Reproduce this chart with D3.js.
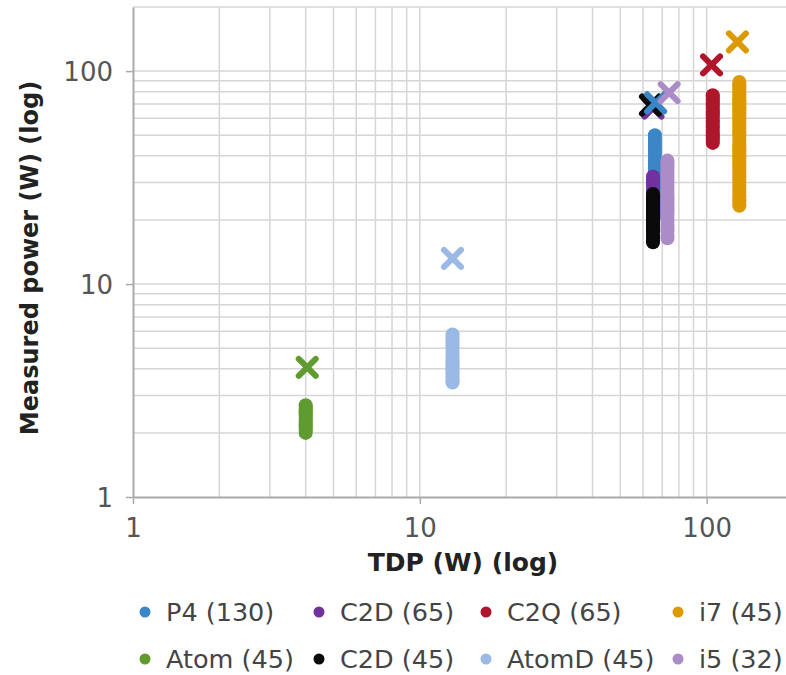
<!DOCTYPE html>
<html>
<head>
<meta charset="utf-8">
<script src="https://cdn.jsdelivr.net/npm/d3@7"></script>
<style>
  body { margin: 0; background: #fff; }
  svg { display: block; font-family: "DejaVu Sans", sans-serif; }
</style>
</head>
<body>
<div id="chart"></div>
<script>
// series, in legend order
var seriesNames = ['P4 (130)', 'C2D (65)', 'C2Q (65)', 'i7 (45)', 'Atom (45)', 'C2D (45)', 'AtomD (45)', 'i5 (32)'];
var seriesColors = ['#3b86c6', '#7331a0', '#b0162b', '#dc9a00', '#5f9b2f', '#0a0a0a', '#9ab9e4', '#ab8cc8'];

// TDP (x) of each stripe of measured points
var seriesTdp = [66, 65, 105, 130, 4, 65, 13, 73];

// measured power (W) for each benchmark, per series
var measured = [
    [50, 48.5, 47, 45.5, 44, 42.5, 41, 39.5, 38, 36.5, 35, 34, 33, 32, 31, 30, 29, 28, 27, 26, 25, 24, 23, 22, 21],
    [32, 31, 30, 29, 28, 27, 26, 25, 24, 23, 22, 21, 20, 19, 18],
    [77, 75.5, 74, 72.5, 71, 69.5, 68, 66.5, 65, 63.5, 62, 60.5, 59, 57.5, 56, 54.5, 53, 51.5, 50, 49, 48, 47, 46],
    [89, 87, 85, 83, 81, 79, 77, 75, 73, 71.5, 70, 68.5, 67, 65.5, 64, 62.5, 61, 59.5, 58, 56.5, 55, 53.5, 52, 50.5,
     49, 47.5, 46, 45, 44, 43, 42, 41, 40, 39, 38, 37, 36, 35, 34, 33, 32, 31, 30, 29, 28, 27, 26, 25.2, 24.5, 23.8, 23.3],
    [2.7, 2.65, 2.6, 2.55, 2.5, 2.45, 2.4, 2.35, 2.3, 2.25, 2.2, 2.15, 2.1, 2.05, 2.0],
    [26.5, 25.8, 25, 24.5, 24, 23.5, 23, 22.5, 22, 21.5, 21, 20.5, 20, 19.5, 19, 18.5, 18, 17.5, 17, 16.5, 16, 15.7],
    [5.8, 5.65, 5.5, 5.35, 5.2, 5.05, 4.9, 4.75, 4.6, 4.5, 4.4, 4.3, 4.2, 4.1, 4.0, 3.9, 3.8, 3.7, 3.6, 3.5, 3.45],
    [38, 37, 36, 35, 34, 33, 32, 31, 30, 29, 28, 27.2, 26.5, 25.7, 25, 24.2, 23.5, 22.7, 22, 21.2, 20.5, 19.7, 19,
     18.3, 17.7, 17, 16.4]
];

// the "x" markers
var markerX = [66.4, 65, 104, 128, 4.05, 63.7, 13, 74];
var markerY = [71, 67, 107, 137, 4.06, 69.3, 13.2, 79.2];
var markerOrder = [1, 5, 0, 7, 2, 3, 4, 6];

var xTicks = [1, 10, 100];
var yTicks = [1, 10, 100];

var width = 786, height = 675;
var plotLeft = 133, plotTop = 7, plotRight = 793, plotBottom = 497;

var svg = d3.select('#chart')
    .append('svg')
    .attr('width', width)
    .attr('height', height);

var x = d3.scaleLog().domain([1, 200]).range([plotLeft, plotRight]);
var y = d3.scaleLog().domain([1, 200]).range([plotBottom, plotTop]);

// grid values 2..200 on the log scale
var gridVals = [];
[1, 10, 100].forEach(function(dec) {
    for (var k = 1; k <= 9; k++) {
        if (dec * k > 1 && dec * k <= 200) gridVals.push(dec * k);
    }
});

var grid = svg.append('g').attr('stroke', '#d6d6d6').attr('stroke-width', 1.5);

grid.selectAll('.vg')
    .data(gridVals)
    .enter().append('line')
    .attr('x1', function(d) { return x(d); })
    .attr('x2', function(d) { return x(d); })
    .attr('y1', plotTop)
    .attr('y2', plotBottom);

grid.selectAll('.hg')
    .data(gridVals)
    .enter().append('line')
    .attr('y1', function(d) { return y(d); })
    .attr('y2', function(d) { return y(d); })
    .attr('x1', plotLeft)
    .attr('x2', plotRight);

// axes
var xAxis = d3.axisBottom(x).tickValues(xTicks).tickFormat(d3.format('d')).tickSize(7).tickSizeOuter(0);
var yAxis = d3.axisLeft(y).tickValues(yTicks).tickFormat(d3.format('d')).tickSize(7).tickSizeOuter(0);

var gx = svg.append('g').attr('transform', 'translate(0,' + plotBottom + ')').call(xAxis);
var gy = svg.append('g').attr('transform', 'translate(' + plotLeft + ',0)').call(yAxis);

[gx, gy].forEach(function(g) {
    g.select('.domain').attr('stroke', '#aaaaaa').attr('stroke-width', 2);
    g.selectAll('.tick line').attr('stroke', '#aaaaaa').attr('stroke-width', 1.5);
    g.selectAll('.tick text')
        .attr('font-family', '"DejaVu Sans", sans-serif')
        .attr('font-size', 26)
        .attr('fill', '#555');
});
gx.selectAll('.tick text').attr('dy', null).attr('y', 31).attr('dominant-baseline', 'central');
gy.selectAll('.tick text').attr('dy', null).attr('x', -20).attr('dominant-baseline', 'central');

// axis titles
svg.append('text')
    .attr('x', (plotLeft + plotRight) / 2)
    .attr('y', 562)
    .attr('text-anchor', 'middle')
    .attr('dominant-baseline', 'central')
    .attr('font-size', 25)
    .attr('font-weight', 'bold')
    .attr('fill', '#222')
    .text('TDP (W) (log)');

svg.append('text')
    .attr('transform', 'translate(30,258) rotate(-90)')
    .attr('text-anchor', 'middle')
    .attr('dominant-baseline', 'central')
    .attr('font-size', 24)
    .attr('font-weight', 'bold')
    .attr('fill', '#222')
    .text('Measured power (W) (log)');

// stripes of measured points
var pts = svg.append('g');
seriesNames.forEach(function(name, i) {
    pts.append('g')
        .attr('fill', seriesColors[i])
        .selectAll('circle')
        .data(measured[i])
        .enter().append('circle')
        .attr('cx', x(seriesTdp[i]))
        .attr('cy', function(d) { return y(d); })
        .attr('r', 7);
});

// x markers
var mk = svg.append('g')
    .attr('fill', 'none')
    .attr('stroke-width', 6)
    .attr('stroke-linecap', 'round');
var s = 8.5;
markerOrder.forEach(function(i) {
    var cx = x(markerX[i]), cy = y(markerY[i]);
    mk.append('path')
        .attr('stroke', seriesColors[i])
        .attr('d', 'M' + (cx - s) + ',' + (cy - s) + 'L' + (cx + s) + ',' + (cy + s)
            + 'M' + (cx - s) + ',' + (cy + s) + 'L' + (cx + s) + ',' + (cy - s));
});

// legend, 4 columns x 2 rows
var legendCols = [145, 319, 486, 678];
var legendRows = [612, 659];

var legend = svg.append('g').selectAll('g')
    .data(seriesNames)
    .enter().append('g')
    .attr('transform', function(d, i) {
        return 'translate(' + legendCols[i % 4] + ',' + legendRows[Math.floor(i / 4)] + ')';
    });

legend.append('circle')
    .attr('r', 5.5)
    .attr('fill', function(d, i) { return seriesColors[i]; });

legend.append('text')
    .attr('x', 21)
    .attr('dominant-baseline', 'central')
    .attr('font-size', 25.5)
    .attr('fill', '#444')
    .text(function(d) { return d; });
</script>
</body>
</html>
